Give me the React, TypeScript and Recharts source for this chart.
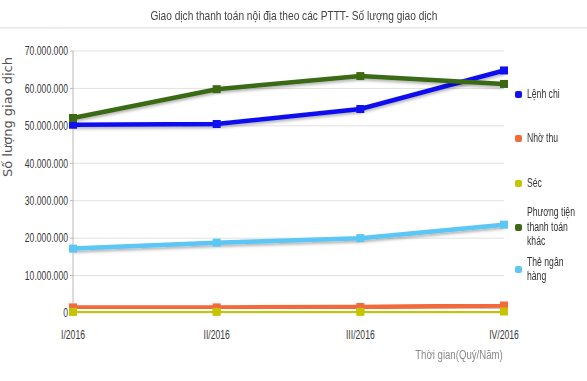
import React from 'react';
import { LineChart, Line, XAxis, YAxis, CartesianGrid } from 'recharts';

// Quarterly transaction counts
const quarters = ['I/2016', 'II/2016', 'III/2016', 'IV/2016'];
const lenhChi = [50300000, 50500000, 54500000, 64800000];
const nhoThu = [1500000, 1500000, 1600000, 2000000];
const sec = [300000, 300000, 300000, 400000];
const ptttKhac = [52100000, 59800000, 63300000, 61200000];
const theNganHang = [17200000, 18800000, 20000000, 23600000];
const yTicks = [0, 10000000, 20000000, 30000000, 40000000, 50000000, 60000000, 70000000];

const series = [
  { key: 'lenhChi', name: 'Lệnh chi', lines: ['Lệnh chi'], values: lenhChi, color: '#1010f0' },
  { key: 'nhoThu', name: 'Nhờ thu', lines: ['Nhờ thu'], values: nhoThu, color: '#f26a3a' },
  { key: 'sec', name: 'Séc', lines: ['Séc'], values: sec, color: '#c4c400' },
  {
    key: 'ptttKhac',
    name: 'Phương tiện thanh toán khác',
    lines: ['Phương tiện', 'thanh toán', 'khác'],
    values: ptttKhac,
    color: '#3b6a12',
  },
  { key: 'the', name: 'Thẻ ngân hàng', lines: ['Thẻ ngân', 'hàng'], values: theNganHang, color: '#5cc6f4' },
];

const data = quarters.map((q, i) => {
  const row: Record<string, string | number> = { q };
  series.forEach((s) => (row[s.key] = s.values[i]));
  return row;
});

// no narrow font installed: squeeze Liberation Sans horizontally instead
const SANS = "'Liberation Sans', Arial, sans-serif";
const SQUEEZE = 0.72;

const fmt = (v: number) => String(v).replace(/\B(?=(\d{3})+(?!\d))/g, '.');

function NarrowTick(props: any) {
  const { x, y, payload, textAnchor, isY } = props;
  const label = isY ? fmt(payload.value) : payload.value;
  return (
    <g transform={`translate(${x},${y})`}>
      <text
        transform={`scale(${SQUEEZE},1)`}
        textAnchor={textAnchor}
        dy={isY ? '0.355em' : '0.71em'}
        fontSize={12}
        fontFamily={SANS}
        fill="#3a3a3a"
      >
        {label}
      </text>
    </g>
  );
}

function squareDot(color: string) {
  return (props: any) => {
    const { cx, cy, index } = props;
    if (cx == null || cy == null) return <g key={`d-${index}`} />;
    return <rect key={`d-${color}-${index}`} x={cx - 4} y={cy - 4} width={8} height={8} fill={color} />;
  };
}

// legend rows: vertical centre of each entry
const legendMids = [94, 138, 183, 227, 269];

const squeezed = (origin: string, k = SQUEEZE): React.CSSProperties => ({
  display: 'inline-block',
  transform: `scaleX(${k})`,
  transformOrigin: origin,
  whiteSpace: 'nowrap',
});

export default function App() {
  return (
    <div style={{ position: 'relative', width: 587, height: 381, background: '#fff', fontFamily: SANS }}>
      <style>{`body{margin:0}`}</style>
      <div
        style={{
          position: 'absolute',
          top: 8,
          left: 94,
          width: 400,
          textAlign: 'center',
          fontSize: 13,
          lineHeight: '16px',
          color: '#444',
        }}
      >
        <span style={squeezed('center', 0.78)}>
          Giao dịch thanh toán nội địa theo các PTTT- Số lượng giao dịch
        </span>
      </div>
      <div
        style={{
          position: 'absolute',
          top: 27,
          left: 0,
          width: 587,
          height: 2,
          background: 'linear-gradient(#e6e6e6, #f2f2f2)',
        }}
      />
      <div
        style={{
          position: 'absolute',
          left: 8 - 75,
          top: 117 - 8,
          width: 150,
          height: 16,
          transform: 'rotate(-90deg)',
          textAlign: 'center',
          fontFamily: "'DejaVu Sans', sans-serif",
          fontSize: 13,
          lineHeight: '16px',
          color: '#555',
          whiteSpace: 'nowrap',
        }}
      >
        Số lượng giao dịch
      </div>
      <LineChart
        width={587}
        height={381}
        data={data}
        margin={{ top: 51, right: 83, bottom: 48, left: 0 }}
        style={{ position: 'absolute', top: 0, left: 0 }}
      >
        <defs>
          <filter id="shadow" x="-10%" y="-50%" width="120%" height="200%">
            <feDropShadow dx="0" dy="2" stdDeviation="1.5" floodColor="#000" floodOpacity="0.3" />
          </filter>
        </defs>
        <CartesianGrid vertical={false} stroke="#e2e2e2" />
        <XAxis
          dataKey="q"
          axisLine={false}
          tickLine={false}
          tickMargin={11}
          height={20}
          tick={<NarrowTick />}
          interval={0}
        />
        <YAxis
          width={73}
          domain={[0, 70000000]}
          ticks={yTicks}
          axisLine={{ stroke: '#b8b8b8' }}
          tickLine={{ stroke: '#b8b8b8' }}
          tickSize={3}
          tick={<NarrowTick isY />}
        />
        {series.map((s) => (
          <Line
            key={s.key}
            dataKey={s.key}
            name={s.name}
            type="linear"
            stroke={s.color}
            strokeWidth={4.5}
            dot={squareDot(s.color)}
            activeDot={false}
            filter="url(#shadow)"
            isAnimationActive={false}
          />
        ))}
      </LineChart>
      <div
        style={{
          position: 'absolute',
          right: 587 - 503,
          top: 348,
          fontSize: 12.5,
          lineHeight: '15px',
          color: '#8a8a8a',
        }}
      >
        <span style={squeezed('right center', 0.77)}>Thời gian(Quý/Năm)</span>
      </div>
      {series.map((s, i) => (
        <div key={s.key}>
          <span
            style={{
              position: 'absolute',
              left: 515,
              top: legendMids[i] - 3.5,
              width: 7,
              height: 7,
              borderRadius: 2,
              background: s.color,
            }}
          />
          <div
            style={{
              position: 'absolute',
              left: 527,
              top: legendMids[i] - (s.lines.length * 14.5) / 2,
              fontSize: 12,
              lineHeight: '14.5px',
              color: '#333',
            }}
          >
            {s.lines.map((l) => (
              <div key={l}>
                <span style={squeezed('left center')}>{l}</span>
              </div>
            ))}
          </div>
        </div>
      ))}
    </div>
  );
}
